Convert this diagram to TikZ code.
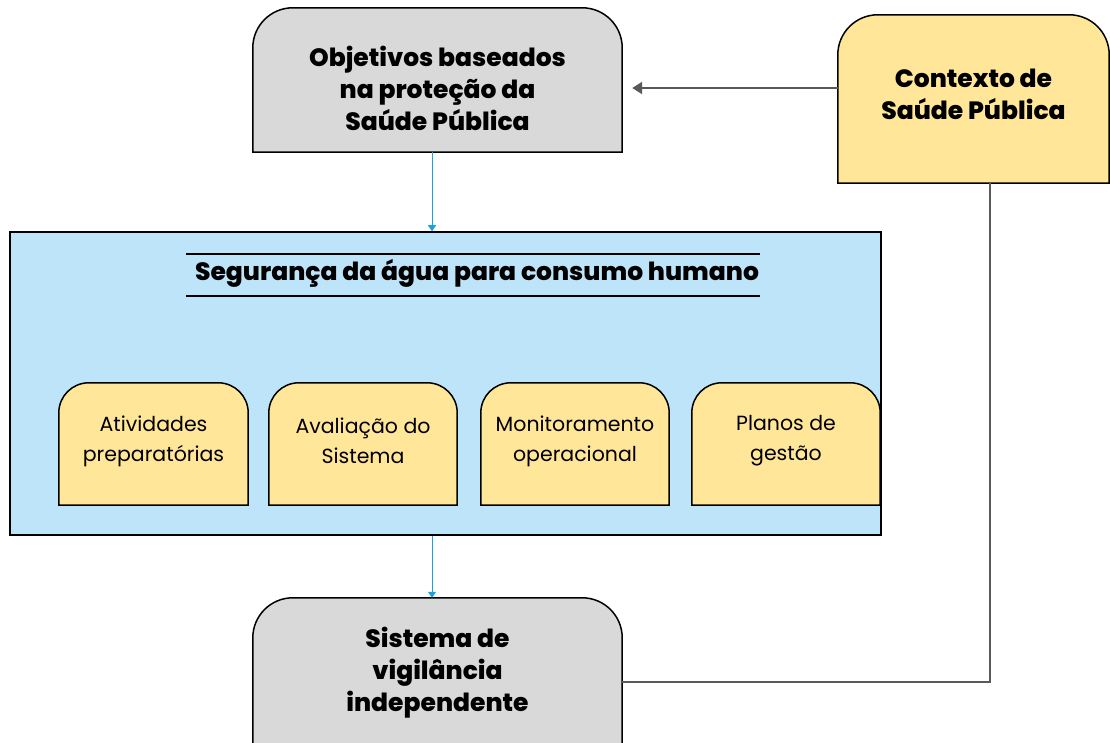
\documentclass[tikz,border=0pt]{standalone}
\usepackage{fontspec}
\setmainfont{Poppins}[BoldFont={Poppins ExtraBold}]
\usepackage{xcolor}
\usetikzlibrary{positioning,calc,arrows.meta}
\definecolor{boxgray}{HTML}{D9D9D9}
\definecolor{boxyellow}{HTML}{FFE699}
\definecolor{boxblue}{HTML}{BDE4F9}
\definecolor{arrblue}{HTML}{1BA1DB}
\definecolor{linegray}{HTML}{595959}
\pgfdeclarelayer{back}
\pgfdeclarelayer{background}
\pgfsetlayers{back,background,main}

\tikzset{
  boxnode/.style={inner sep=0pt},
  bigtxt/.style={font=\bfseries\fontsize{25}{32}\selectfont, align=center, inner sep=0pt},
  smalltxt/.style={font=\fontsize{20.5}{30}\selectfont, align=center, inner sep=0pt},
  bluearrow/.style={arrblue, line width=1pt, -{Triangle[length=6pt,width=8pt]}},
  grayline/.style={linegray, line width=2pt},
}

% box with rounded top corners, drawn behind the text
\newcommand\roundtop[3]{%
  \begin{pgfonlayer}{background}
  \draw[line width=1.5pt, fill=#2] (#1.south west) -- ([yshift=-#3]#1.north west)
    arc[start angle=180, end angle=90, radius=#3] -- ([xshift=-#3]#1.north east)
    arc[start angle=90, end angle=0, radius=#3] -- (#1.south east) -- cycle;
  \end{pgfonlayer}}

\begin{document}
\begin{tikzpicture}[x=1pt, y=1pt]
\useasboundingbox (0,0) rectangle (1110,742);

% main blue frame
\begin{pgfonlayer}{back}
\node[draw, line width=1.5pt, fill=boxblue, minimum width=871pt, minimum height=303pt] (seg) at (445.5,358.5) {};
\end{pgfonlayer}
\node[font=\bfseries\fontsize{25}{30}\selectfont] (ttl) at (477,469) {Segurança da água para consumo humano};
\draw[line width=1.2pt] (186,488) -- (760,488);
\draw[line width=1.2pt] (186,446) -- (760,446);

% top and bottom boxes
\node[boxnode, minimum width=369pt, minimum height=144pt] (obj) at (437.5,662) {};
\roundtop{obj}{boxgray}{40pt}
\node[bigtxt] (objtxt) at ([yshift=-8pt]obj.center) {Objetivos baseados\\na proteção da\\Saúde Pública};
\node[boxnode, minimum width=271pt, minimum height=168pt] (ctx) at (973.5,643) {};
\roundtop{ctx}{boxyellow}{40pt}
\node[bigtxt] (ctxtxt) at ([yshift=5pt]ctx.center) {Contexto de\\Saúde Pública};
\node[boxnode, minimum width=369pt, minimum height=164pt] (sis) at (437.5,62) {};
\roundtop{sis}{boxgray}{40pt}
\node[bigtxt] (sistxt) at ([yshift=7pt]sis.center) {Sistema de\\vigilância\\independente};

% activities inside the frame
\node[boxnode, minimum width=189pt, minimum height=122pt] (atv) at (153.5,298) {};
\node[boxnode, minimum width=188pt, minimum height=122pt] (aval) at (363,298) {};
\node[boxnode, minimum width=188pt, minimum height=122pt] (mon) at (575,298) {};
\node[boxnode, minimum width=188pt, minimum height=122pt] (plan) at (786,298) {};
\foreach \b in {atv,aval,mon,plan} {\roundtop{\b}{boxyellow}{30pt}}
\node[smalltxt] (atvtxt) at ([yshift=3pt]atv.center) {Atividades\\preparatórias};
\node[smalltxt] (avaltxt) at ([yshift=3pt]aval.center) {Avaliação do\\Sistema};
\node[smalltxt] (montxt) at ([yshift=3pt]mon.center) {Monitoramento\\operacional};
\node[smalltxt] (plantxt) at ([yshift=3pt]plan.center) {Planos de\\gestão};

% connectors
\draw[grayline, shorten >=10pt, -{Triangle[length=10pt,width=12pt]}] (ctx.west |- 0,654) -- (obj.east |- 0,654);
\draw[bluearrow] ([xshift=-5.5pt]obj.south) -- ([xshift=-5.5pt]obj.south |- seg.north);
\draw[bluearrow] ([xshift=-5.5pt]sis.north |- seg.south) -- ([xshift=-5.5pt]sis.north);
\draw[grayline] ([xshift=16pt]ctx.south) |- (sis.east |- 0,60);
\end{tikzpicture}
\end{document}
